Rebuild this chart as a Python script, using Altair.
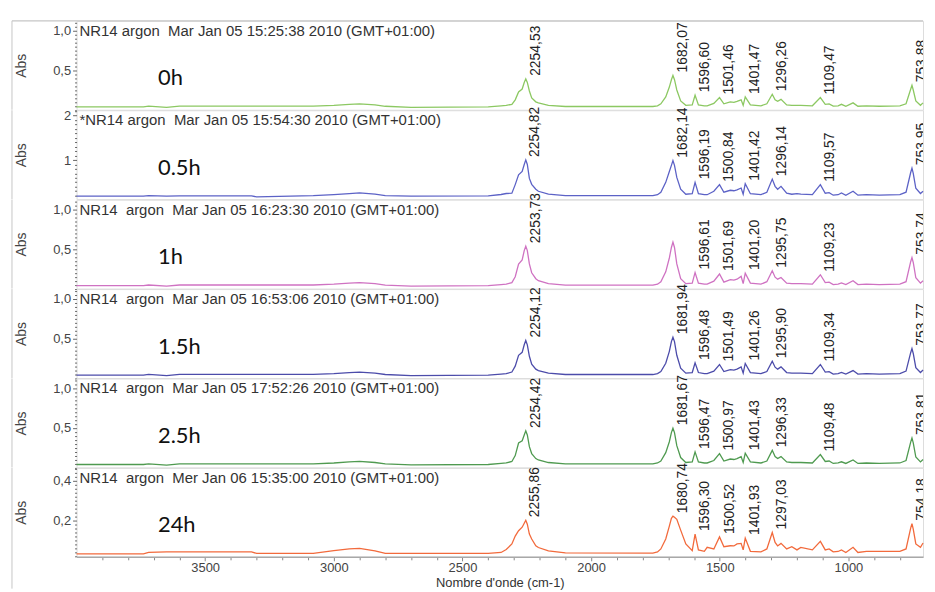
import math
import json
import altair as alt
import pandas as pd

# ---------------- data ----------------
WN = [4000, 3740, 3720, 3650, 3600, 3320, 3300, 3080, 3000, 2940,
      2900, 2840, 2800, 2700, 2400, 2350, 2330, 2308, 2295, 2282,
      2268, 2260, 2254, 2248, 2240, 2231, 2215, 2205, 2166, 2100, 1760, 1742,
      1729, 1710, 1696, 1688, 1682, 1676, 1667, 1652, 1632, 1607, 1596, 1583,
      1560, 1549, 1523, 1501, 1484, 1459, 1445, 1433, 1417, 1409,
      1401, 1381, 1340, 1317, 1296, 1285, 1275, 1262, 1240, 1220,
      1200, 1185, 1140, 1109, 1090, 1075, 1059, 1040, 1027, 1010,
      982, 963, 930, 880, 800, 776, 758, 753, 748, 738, 720, 710]

ABS_0H = [0.037, 0.037, 0.045, 0.030, 0.045, 0.045, 0.045, 0.045, 0.056, 0.069,
          0.075, 0.062, 0.044, 0.031, 0.037, 0.050, 0.056, 0.069, 0.125, 0.225,
          0.262, 0.345, 0.391, 0.345, 0.237, 0.150, 0.100, 0.087, 0.056, 0.041, 0.041, 0.050,
          0.075, 0.162, 0.287, 0.380, 0.434, 0.380, 0.250, 0.112, 0.056, 0.062, 0.184, 0.062,
          0.050, 0.050, 0.081, 0.154, 0.075, 0.100, 0.094, 0.106, 0.125, 0.056,
          0.162, 0.062, 0.050, 0.075, 0.196, 0.125, 0.106, 0.131, 0.062, 0.056,
          0.056, 0.056, 0.050, 0.154, 0.069, 0.075, 0.047, 0.050, 0.069, 0.044,
          0.087, 0.044, 0.050, 0.044, 0.050, 0.075, 0.260, 0.309, 0.250, 0.112, 0.056, 0.087]

ABS_05H = [0.187, 0.187, 0.198, 0.187, 0.194, 0.194, 0.171, 0.198, 0.220, 0.243,
           0.260, 0.231, 0.198, 0.187, 0.194, 0.225, 0.247, 0.254, 0.447, 0.669,
           0.743, 0.900, 1.003, 0.900, 0.587, 0.454, 0.343, 0.298, 0.231, 0.198, 0.198, 0.220,
           0.276, 0.498, 0.743, 0.880, 0.987, 0.880, 0.609, 0.343, 0.231, 0.243, 0.498, 0.243,
           0.220, 0.220, 0.298, 0.447, 0.276, 0.320, 0.309, 0.331, 0.371, 0.231,
           0.469, 0.243, 0.220, 0.276, 0.571, 0.409, 0.343, 0.409, 0.254, 0.231,
           0.243, 0.231, 0.220, 0.447, 0.254, 0.265, 0.209, 0.220, 0.260, 0.209,
           0.298, 0.209, 0.220, 0.209, 0.220, 0.276, 0.720, 0.816, 0.700, 0.365, 0.247, 0.298]

ABS_1H = [0.037, 0.037, 0.045, 0.030, 0.045, 0.045, 0.045, 0.045, 0.056, 0.069,
          0.075, 0.062, 0.044, 0.031, 0.037, 0.050, 0.056, 0.075, 0.150, 0.309,
          0.362, 0.480, 0.537, 0.480, 0.312, 0.200, 0.125, 0.100, 0.062, 0.044, 0.044, 0.056,
          0.087, 0.212, 0.387, 0.520, 0.587, 0.520, 0.312, 0.125, 0.062, 0.069, 0.204, 0.069,
          0.056, 0.056, 0.094, 0.184, 0.081, 0.112, 0.106, 0.119, 0.154, 0.062,
          0.196, 0.069, 0.056, 0.087, 0.225, 0.144, 0.119, 0.141, 0.069, 0.062,
          0.062, 0.062, 0.056, 0.175, 0.075, 0.081, 0.050, 0.056, 0.071, 0.050,
          0.100, 0.050, 0.056, 0.050, 0.056, 0.087, 0.340, 0.391, 0.330, 0.137, 0.069, 0.100]

ABS_15H = [0.037, 0.037, 0.045, 0.030, 0.045, 0.045, 0.045, 0.045, 0.056, 0.069,
           0.075, 0.062, 0.044, 0.031, 0.037, 0.050, 0.056, 0.075, 0.150, 0.287,
           0.325, 0.420, 0.475, 0.420, 0.275, 0.175, 0.112, 0.094, 0.062, 0.044, 0.044, 0.056,
           0.081, 0.187, 0.337, 0.460, 0.516, 0.460, 0.287, 0.125, 0.062, 0.069, 0.191, 0.069,
           0.056, 0.056, 0.087, 0.171, 0.081, 0.106, 0.100, 0.112, 0.141, 0.062,
           0.184, 0.069, 0.056, 0.081, 0.212, 0.137, 0.112, 0.141, 0.069, 0.062,
           0.062, 0.062, 0.056, 0.171, 0.075, 0.081, 0.050, 0.056, 0.071, 0.050,
           0.094, 0.050, 0.056, 0.050, 0.056, 0.087, 0.320, 0.371, 0.310, 0.131, 0.069, 0.100]

ABS_25H = [0.037, 0.037, 0.045, 0.030, 0.045, 0.045, 0.045, 0.045, 0.056, 0.069,
           0.075, 0.062, 0.044, 0.031, 0.037, 0.050, 0.056, 0.075, 0.150, 0.309,
           0.337, 0.410, 0.462, 0.410, 0.262, 0.175, 0.112, 0.094, 0.062, 0.044, 0.044, 0.056,
           0.081, 0.187, 0.325, 0.440, 0.496, 0.440, 0.275, 0.125, 0.062, 0.069, 0.196, 0.069,
           0.056, 0.056, 0.087, 0.175, 0.081, 0.106, 0.100, 0.112, 0.137, 0.062,
           0.179, 0.069, 0.056, 0.081, 0.216, 0.137, 0.112, 0.137, 0.069, 0.062,
           0.062, 0.062, 0.056, 0.162, 0.075, 0.081, 0.050, 0.056, 0.071, 0.050,
           0.094, 0.050, 0.056, 0.050, 0.056, 0.087, 0.320, 0.371, 0.310, 0.131, 0.069, 0.100]

ABS_24H = [0.030, 0.030, 0.037, 0.040, 0.040, 0.040, 0.032, 0.032, 0.046, 0.055,
           0.058, 0.045, 0.032, 0.032, 0.032, 0.037, 0.052, 0.080, 0.120, 0.147,
           0.165, 0.185, 0.200, 0.180, 0.130, 0.105, 0.071, 0.062, 0.045, 0.035, 0.034, 0.040,
           0.055, 0.105, 0.170, 0.210, 0.221, 0.215, 0.205, 0.150, 0.080, 0.046, 0.130, 0.050,
           0.043, 0.063, 0.055, 0.116, 0.066, 0.071, 0.070, 0.080, 0.083, 0.050,
           0.110, 0.043, 0.040, 0.055, 0.138, 0.088, 0.070, 0.083, 0.055, 0.066,
           0.050, 0.063, 0.050, 0.093, 0.050, 0.055, 0.040, 0.042, 0.050, 0.037,
           0.063, 0.037, 0.043, 0.043, 0.043, 0.055, 0.160, 0.183, 0.155, 0.080, 0.063, 0.085]

PEAKS_0H = ["2254,53", "1682,07", "1596,60", "1501,46", "1401,47", "1296,26", "1109,47", "753,88"]
PEAKS_05H = ["2254,82", "1682,14", "1596,19", "1500,84", "1401,42", "1296,14", "1109,57", "753,95"]
PEAKS_1H = ["2253,73", "1596,61", "1501,69", "1401,20", "1295,75", "1109,23", "753,74"]
PEAKS_15H = ["2254,12", "1681,94", "1596,48", "1501,49", "1401,26", "1295,90", "1109,34", "753,77"]
PEAKS_25H = ["2254,42", "1681,67", "1596,47", "1500,97", "1401,43", "1296,33", "1109,48", "753,81"]
PEAKS_24H = ["2255,86", "1680,74", "1596,30", "1500,52", "1401,93", "1297,03", "754,18"]

NB = "\u00a0"
TITLES = [
    "NR14 argon" + NB + NB + "Mar Jan 05 15:25:38 2010 (GMT+01:00)",
    "*NR14 argon" + NB + NB + "Mar Jan 05 15:54:30 2010 (GMT+01:00)",
    "NR14" + NB + NB + "argon" + NB + NB + "Mar Jan 05 16:23:30 2010 (GMT+01:00)",
    "NR14" + NB + NB + "argon" + NB + NB + "Mar Jan 05 16:53:06 2010 (GMT+01:00)",
    "NR14" + NB + NB + "argon" + NB + NB + "Mar Jan 05 17:52:26 2010 (GMT+01:00)",
    "NR14" + NB + NB + "argon" + NB + NB + "Mer Jan 06 15:35:00 2010 (GMT+01:00)",
]
TIMES = ["0h", "0.5h", "1h", "1.5h", "2.5h", "24h"]
COLORS = ["#8cc862", "#5c62c6", "#cf72c2", "#4c4caa", "#4f9a50", "#f26a3c"]

SPECTRA = [ABS_0H, ABS_05H, ABS_1H, ABS_15H, ABS_25H, ABS_24H]
PEAKS = [PEAKS_0H, PEAKS_05H, PEAKS_1H, PEAKS_15H, PEAKS_25H, PEAKS_24H]

Y_DOMAINS = [[0, 1.125], [0.12, 2.12], [0, 1.125], [0, 1.125], [0, 1.125], [0.015, 0.465]]
Y_MAJOR = [[0.5, 1.0], [1.0, 2.0], [0.5, 1.0], [0.5, 1.0], [0.5, 1.0], [0.2, 0.4]]
Y_MINOR_STEP = [0.05, 0.1, 0.05, 0.05, 0.05, 0.02]
Y_FMT = [".1f", ".0f", ".1f", ".1f", ".1f", ".1f"]

X_DOMAIN = [4000, 710]
X_TICKS = list(range(800, 4000, 100))

W, H = 852, 89.5
FONT = "Liberation Sans"
FRAME = "#c6c6c6"

for s in SPECTRA:
    assert len(s) == len(WN)


def nearest_abs(spec, w):
    i = min(range(len(WN)), key=lambda k: abs(WN[k] - w))
    return spec[i]


def panel(i):
    spec = SPECTRA[i]
    df = pd.DataFrame({"wn": WN, "abs": spec})
    lo, hi = Y_DOMAINS[i]
    step = Y_MINOR_STEP[i]
    n0 = math.ceil(lo / step - 1e-9)
    n1 = math.floor(hi / step + 1e-9)
    yvals = [round(k * step, 4) for k in range(n0, n1 + 1)]
    test = "indexof(%s, datum.value) >= 0" % json.dumps(Y_MAJOR[i])
    yaxis = alt.Axis(
        values=yvals,
        labelExpr="%s ? replace(format(datum.value, '%s'), '.', ',') : ''" % (test, Y_FMT[i]),
        tickSize={"condition": {"test": test, "value": 4}, "value": 2},
        domain=False, grid=False, labelOverlap=False, labelPadding=2,
        labelFontSize=13, labelColor="#444", tickColor="#666", labelFont=FONT,
        title="Abs", titleX=-48, titleY=H / 2, titleAngle=270, titleAlign="center",
        titleBaseline="bottom", titleFontSize=14, titleFontWeight="normal",
        titleColor="#444", titleFont=FONT,
    )
    last = i == len(SPECTRA) - 1
    if last:
        xaxis = alt.Axis(
            values=X_TICKS,
            labelExpr="datum.value % 500 === 0 ? '' + datum.value : ''",
            tickSize={"condition": {"test": "datum.value % 500 === 0", "value": 4}, "value": 3},
            labelOverlap=False, labelFlush=False, grid=False,
            domainColor="#a8a8a8", domainWidth=1.5, tickColor="#888",
            labelFontSize=13, labelColor="#444", labelPadding=1, labelFont=FONT,
            title="Nombre d'onde (cm-1)", titleFontSize=13, titleFontWeight="normal",
            titleColor="#333", titlePadding=2, titleFont=FONT,
        )
    else:
        xaxis = None
    X = alt.X("wn:Q", scale=alt.Scale(domain=X_DOMAIN, nice=False, zero=False), axis=xaxis)
    Y = alt.Y("abs:Q", scale=alt.Scale(domain=[lo, hi], nice=False, zero=False), axis=yaxis)

    line = alt.Chart(df).mark_line(color=COLORS[i], strokeWidth=1.3).encode(x=X, y=Y)

    labs = PEAKS[i]
    lw = [float(s.replace(",", ".")) for s in labs]
    la = [nearest_abs(spec, w) for w in lw]
    ldf = pd.DataFrame({"wn": lw, "abs": la, "t": labs})
    tprops = dict(angle=270, align="left", baseline="middle", dx=3, dy=10,
                  fontSize=14, color="#222", font=FONT)
    lab_in = alt.Chart(ldf[ldf.wn >= 800]).mark_text(**tprops).encode(x=X, y=Y, text="t:N")
    lab_edge = alt.Chart(ldf[ldf.wn < 800]).mark_text(clip=True, **tprops).encode(x=X, y=Y, text="t:N")

    one = pd.DataFrame({"t": [TITLES[i]]})
    title = alt.Chart(one).mark_text(align="left", baseline="middle", fontSize=15,
                                     color="#333", font=FONT).encode(
        x=alt.value(3), y=alt.value(10), text="t:N")
    tl = pd.DataFrame({"t": [TIMES[i]]})
    tlabel = alt.Chart(tl).mark_text(align="left", baseline="alphabetic", fontSize=22,
                                     color="#111", font="Lato").encode(
        x=alt.value(82), y=alt.value(65), text="t:N")

    r = pd.DataFrame({"a": [0]})
    vrule = alt.Chart(r).mark_rule(color=FRAME, strokeWidth=1).encode(
        x=alt.value(-65), y=alt.value(0), y2=alt.value(H + 32 if last else H))
    layers = [line, lab_in, lab_edge, title, tlabel, vrule]
    if i == 0:
        trule = alt.Chart(r).mark_rule(color=FRAME, strokeWidth=1.2).encode(
            x=alt.value(-65), x2=alt.value(W), y=alt.value(0))
        layers.append(trule)
    return alt.layer(*layers).properties(width=W, height=H)


chart = alt.vconcat(*[panel(i) for i in range(len(SPECTRA))], spacing=0,
                    bounds="flush").properties(
    padding={"left": 2, "top": 6, "right": 0, "bottom": 0},
    background="white",
).configure_view(stroke=None).configure(font=FONT)

chart.save("out.html", embed_options={"renderer": "svg", "actions": False})
